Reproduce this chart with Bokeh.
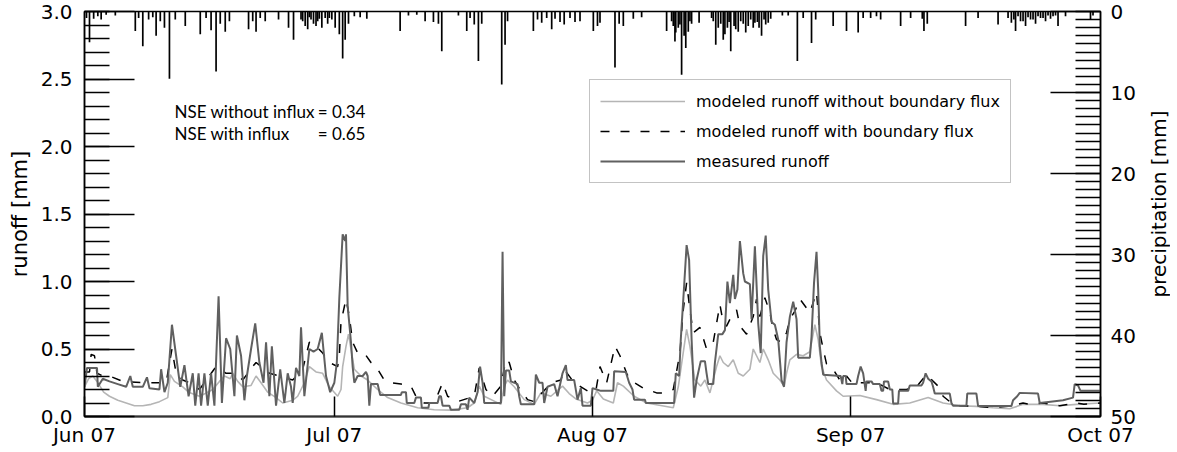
import math
from datetime import datetime, timedelta
from bokeh.plotting import figure
from bokeh.layouts import row
from bokeh.models import (Range1d, LinearAxis, SingleIntervalTicker, FixedTicker,
                          PrintfTickFormatter, DatetimeTickFormatter, ColumnDataSource)
from bokeh.core.properties import value
from bokeh.embed import file_html
from bokeh.resources import INLINE

START = datetime(2007, 6, 1)
END = datetime(2007, 10, 1)

# ---- measured runoff [mm] (day offset from 1 Jun 2007, value) ----
measured_days = [0.0,0.3,1.5,1.6,2.2,3.0,4.0,5.0,5.5,5.8,7.0,7.5,7.8,9.0,9.2,9.6,10.0,10.5,11.0,11.5,12.0,12.5,13.0,13.3,13.7,14.0,14.4,14.8,15.2,15.6,16.1,16.5,17.0,17.5,18.0,18.3,18.8,19.2,19.5,20.0,20.5,21.0,21.5,21.8,22.2,22.5,23.0,23.5,24.0,24.4,24.8,25.0,25.4,25.8,26.0,26.4,27.0,27.5,28.0,28.5,29.0,29.5,30.0,30.3,30.6,
    31.0,31.3,31.4,31.6,32.0,32.2,32.4,32.8,33.4,33.8,34.0,34.2,34.4,35.2,35.5,38.0,38.1,38.6,38.7,39.6,39.8,40.4,40.5,41.3,41.4,42.4,42.6,42.8,43.0,43.8,44.0,45.0,45.2,45.8,46.0,46.2,46.8,47.2,47.5,47.8,48.0,50.0,50.2,50.4,50.6,51.0,51.2,52.0,52.2,52.4,54.0,54.2,54.6,55.0,55.2,55.6,56.4,56.8,57.4,57.8,58.0,58.8,59.2,59.6,59.8,60.8,61.0,
    61.5,62.0,63.5,63.6,65.0,65.4,65.8,66.0,67.3,67.4,70.8,71.0,71.4,71.6,72.0,72.3,72.6,72.9,73.2,73.5,74.0,74.5,74.7,74.9,75.5,75.7,76.1,76.6,76.9,77.2,77.5,77.9,78.1,78.4,78.7,79.1,79.3,79.9,80.1,80.5,80.9,81.2,81.5,81.8,82.1,82.5,82.9,83.3,83.7,84.0,84.3,84.7,85.1,85.5,85.7,87.1,87.3,87.6,87.9,88.1,88.3,88.5,88.7,90.8,91.0,
    91.1,91.4,91.5,92.7,92.9,93.2,93.5,93.8,93.9,94.5,94.7,95.5,95.7,95.9,96.0,96.5,96.7,97.0,97.1,97.7,97.8,98.9,99.1,100.5,100.7,101.0,101.3,101.7,101.9,102.1,103.9,104.1,104.3,105.9,106.0,107.1,107.3,111.3,111.5,112.0,112.3,114.5,114.7,116.0,117.5,118.7,118.9,119.3,119.6,122.0]
measured_vals = [0.22,0.36,0.36,0.22,0.28,0.26,0.24,0.22,0.30,0.22,0.22,0.29,0.21,0.20,0.35,0.18,0.25,0.68,0.45,0.22,0.38,0.15,0.32,0.08,0.32,0.08,0.32,0.08,0.32,0.08,0.89,0.10,0.58,0.50,0.15,0.60,0.45,0.12,0.30,0.50,0.69,0.40,0.25,0.55,0.15,0.52,0.08,0.35,0.10,0.32,0.22,0.10,0.36,0.30,0.66,0.15,0.50,0.48,0.50,0.62,0.30,0.18,0.25,0.40,0.88,
    1.35,1.30,1.35,0.82,0.55,0.37,0.25,0.30,0.30,0.33,0.30,0.08,0.24,0.24,0.16,0.16,0.18,0.18,0.10,0.10,0.14,0.14,0.065,0.065,0.10,0.10,0.15,0.15,0.08,0.08,0.05,0.05,0.09,0.09,0.05,0.14,0.10,0.18,0.37,0.25,0.10,0.10,1.22,0.15,0.34,0.34,0.26,0.24,0.15,0.09,0.09,0.31,0.25,0.25,0.10,0.22,0.24,0.15,0.32,0.38,0.27,0.27,0.125,0.21,0.08,0.08,0.21,
    0.20,0.19,0.19,0.335,0.33,0.25,0.20,0.125,0.125,0.10,0.10,0.32,0.30,0.57,0.965,1.27,1.16,0.57,0.14,0.27,0.41,0.41,0.32,0.24,0.24,0.40,0.61,0.61,0.64,1.00,0.84,1.05,0.87,0.94,1.30,1.06,1.00,0.98,0.72,1.26,0.69,0.47,1.19,1.34,0.94,0.70,0.68,0.57,0.27,0.22,0.55,0.74,0.85,0.72,0.435,0.435,0.59,0.99,1.22,0.94,0.52,0.40,0.31,0.30,0.24,
    0.30,0.30,0.24,0.24,0.30,0.37,0.32,0.19,0.26,0.26,0.24,0.24,0.19,0.19,0.26,0.26,0.20,0.20,0.096,0.096,0.19,0.19,0.23,0.23,0.25,0.32,0.28,0.26,0.22,0.17,0.17,0.10,0.08,0.08,0.17,0.17,0.077,0.077,0.12,0.15,0.175,0.17,0.10,0.11,0.12,0.14,0.24,0.23,0.19,0.19]

# ---- modeled runoff without boundary flux ----
without_days = [0.0,0.5,1.0,1.5,2.3,3.0,4.0,5.0,6.0,7.0,8.0,9.0,10.0,10.3,10.8,11.8,12.5,13.8,14.5,15.4,16.2,16.8,17.5,17.8,18.4,19.0,20.0,20.6,21.2,22.0,23.0,23.8,25.0,25.6,26.4,27.0,27.8,28.6,29.4,30.4,30.8,
    31.0,31.4,31.7,32.0,32.4,33.2,34.0,35.2,36.4,38.0,40.0,42.0,44.0,46.0,46.8,47.4,48.0,50.0,50.4,50.8,51.6,52.8,54.0,54.8,56.0,57.4,58.2,59.0,60.4,61.0,
    61.5,62.3,63.5,64.0,64.7,66.0,67.5,70.7,71.3,72.3,72.7,73.3,74.0,74.5,75.1,75.9,76.3,76.7,77.3,77.9,78.5,79.1,79.9,80.3,80.7,81.1,81.5,82.1,82.7,83.5,84.0,84.3,84.7,85.5,86.3,87.1,87.7,88.1,88.5,89.1,90.3,91.1,
    93.1,95.1,97.1,99.1,101.3,103.1,105.1,107.1,109.1,111.1,112.7,115.1,117.1,119.1,122.0]
without_vals = [0.22,0.28,0.30,0.26,0.18,0.15,0.12,0.10,0.08,0.08,0.09,0.11,0.14,0.31,0.26,0.22,0.18,0.15,0.17,0.20,0.26,0.30,0.28,0.32,0.26,0.22,0.23,0.30,0.25,0.18,0.14,0.10,0.12,0.15,0.25,0.37,0.33,0.32,0.22,0.15,0.20,
    0.37,0.52,0.61,0.50,0.35,0.30,0.27,0.20,0.14,0.10,0.065,0.05,0.047,0.065,0.10,0.225,0.15,0.09,0.225,0.27,0.22,0.125,0.09,0.175,0.15,0.225,0.17,0.13,0.10,0.12,
    0.19,0.13,0.10,0.25,0.225,0.15,0.10,0.065,0.22,0.645,0.52,0.27,0.225,0.27,0.175,0.37,0.45,0.40,0.37,0.42,0.32,0.30,0.35,0.50,0.45,0.40,0.50,0.42,0.32,0.27,0.225,0.32,0.42,0.46,0.45,0.48,0.68,0.57,0.37,0.27,0.19,0.15,
    0.155,0.125,0.09,0.10,0.14,0.10,0.08,0.075,0.065,0.057,0.09,0.09,0.08,0.09,0.10]

# ---- modeled runoff with boundary flux ----
with_days = [0.0,0.6,0.8,1.2,1.5,2.2,3.0,4.6,7.0,9.8,10.5,11.0,11.8,12.6,13.8,15.8,17.0,18.2,19.0,20.2,20.6,22.2,23.4,25.0,26.2,27.0,27.8,28.6,29.4,30.4,
    30.6,30.8,31.4,31.8,32.2,32.8,33.6,34.4,35.0,36.0,36.8,38.0,39.2,40.0,40.8,42.0,43.0,43.6,44.8,46.8,47.4,48.2,49.0,50.0,50.6,51.0,51.6,52.2,53.2,54.0,55.6,56.0,57.2,57.6,58.8,60.4,61.4,
    61.9,62.7,63.7,64.3,65.1,65.5,67.1,68.7,69.7,70.7,71.5,71.9,72.3,72.7,73.1,73.5,73.9,74.7,75.5,75.9,76.3,76.7,77.1,77.5,78.3,78.7,79.5,80.3,80.7,81.1,81.7,82.3,82.7,83.1,83.7,84.3,84.7,85.3,85.9,87.1,87.9,88.3,88.7,89.1,89.9,90.7,91.1,
    91.5,92.3,93.0,95.1,96.7,98.7,99.9,101.1,102.5,103.1,103.9,105.1,107.1,109.1,111.1,112.7,113.5,115.1,117.1,119.1,120.0,122.0]
with_vals = [0.33,0.33,0.46,0.45,0.32,0.30,0.30,0.26,0.25,0.25,0.50,0.32,0.27,0.25,0.20,0.37,0.32,0.32,0.27,0.37,0.40,0.32,0.30,0.27,0.35,0.55,0.52,0.47,0.40,0.37,
    0.45,0.70,0.87,0.74,0.55,0.47,0.47,0.40,0.37,0.27,0.25,0.24,0.225,0.125,0.10,0.10,0.25,0.15,0.11,0.15,0.36,0.20,0.15,0.225,0.42,0.40,0.27,0.21,0.125,0.11,0.22,0.25,0.27,0.35,0.25,0.19,0.19,
    0.37,0.25,0.52,0.45,0.32,0.27,0.21,0.175,0.175,0.20,0.47,0.79,0.99,0.79,0.62,0.64,0.66,0.50,0.55,0.69,0.83,0.69,0.67,0.72,0.79,0.67,0.61,0.74,0.87,0.74,0.88,0.77,0.645,0.57,0.55,0.62,0.72,0.78,0.87,0.77,0.92,0.62,0.50,0.39,0.35,0.27,0.25,
    0.30,0.24,0.25,0.25,0.20,0.20,0.22,0.31,0.225,0.15,0.11,0.08,0.077,0.065,0.077,0.10,0.09,0.10,0.08,0.10,0.09,0.10]

# ---- precipitation [mm] ----
precip_days = [0.24,0.6,1.1,1.6,2.0,2.6,3.7,6.1,6.5,7.0,7.7,8.2,8.6,9.1,9.6,10.2,10.9,12.1,13.9,14.6,15.2,15.8,16.3,16.9,17.4,19.7,20.2,20.6,21.1,21.7,23.3,24.5,25.1,26.0,26.2,26.5,26.8,27.0,27.2,27.5,27.8,28.0,28.2,28.5,28.9,29.2,29.4,29.7,30.1,30.6,31.0,31.3,31.7,32.4,33.1,33.9,
    37.9,38.9,39.9,40.9,41.9,42.5,42.9,44.9,45.9,46.3,46.8,47.3,47.7,50.1,50.5,50.8,53.9,54.4,54.9,55.5,56.1,56.5,57.1,57.6,58.3,58.9,59.5,
    61.1,61.6,61.9,63.7,64.2,64.7,65.9,66.9,69.9,70.5,70.7,70.9,71.0,71.3,71.5,71.7,72.0,72.2,72.5,72.7,72.9,73.8,75.3,75.5,75.8,76.1,76.4,76.7,76.9,77.2,77.4,77.6,78.0,78.2,78.5,78.8,79.1,79.4,79.7,80.0,80.3,80.5,80.8,81.0,81.3,81.6,81.8,82.1,82.4,83.8,84.5,85.6,86.3,87.3,87.8,89.9,
    91.5,92.9,93.5,94.4,95.1,95.6,98.0,99.2,100.6,100.8,101.2,105.8,107.3,109.7,110.9,111.3,111.6,111.8,112.1,112.4,112.7,113.0,113.3,113.6,113.9,114.2,114.5,114.8,115.1,115.4,115.7,116.0,116.3,116.6,116.9,117.8,120.8,121.1,121.5]
precip_mm = [0.8,3.8,0.9,0.6,1.0,0.4,0.5,2.4,0.8,4.3,1.0,0.7,3.0,1.2,2.0,8.3,1.0,1.8,2.8,0.8,2.3,7.4,1.5,2.5,1.2,2.2,1.2,2.5,0.8,1.2,1.0,2.0,3.5,1.0,1.2,1.8,2.2,0.7,1.0,1.5,1.8,1.2,0.9,2.0,0.8,1.5,0.8,1.0,2.0,2.8,5.8,3.5,1.5,0.6,0.7,0.9,
    2.4,0.5,0.4,1.2,1.3,1.5,4.9,0.5,2.4,0.8,1.6,6.1,1.5,9.0,4.1,1.2,2.4,1.0,1.4,0.8,2.2,0.9,1.3,1.6,0.8,1.3,1.2,
    2.4,1.8,1.4,6.9,1.5,1.8,0.9,0.7,2.4,1.2,1.8,3.7,2.6,2.0,1.6,7.8,3.0,4.5,2.5,1.2,1.5,1.4,0.8,1.2,4.1,2.0,1.5,3.5,2.8,2.0,1.3,4.9,1.8,2.2,2.5,1.2,1.5,2.6,1.8,1.0,2.0,1.4,1.3,2.0,3.0,1.0,1.6,1.4,0.9,0.5,0.5,6.1,0.8,3.9,1.0,1.8,
    2.4,2.6,0.8,0.8,0.6,1.0,1.8,0.8,0.9,2.4,1.5,1.8,0.8,1.6,0.8,1.4,1.0,2.4,0.6,1.2,1.2,1.8,0.7,1.0,1.0,1.5,0.6,0.8,0.8,1.2,0.5,0.9,0.6,0.5,1.8,0.6,1.0,0.5]

month_ticks = [datetime(2007, m, 1) for m in (6, 7, 8, 9, 10)]
nse_names = ["NSE without influx", "NSE with influx"]
nse_values = ["= 0.34", "= 0.65"]
legend_labels = ["modeled runoff without boundary flux",
                 "modeled runoff with boundary flux",
                 "measured runoff"]
right_title = "precipitation [mm]"


def to_dt(days):
    return [START + timedelta(days=d) for d in days]


def to_ms(dt):
    return (dt - datetime(1970, 1, 1)).total_seconds() * 1000.0


AX_FONT = "DejaVu Sans"
FRAME_W, FRAME_H = 1016, 405
B_LEFT, B_RIGHT, B_TOP, B_BOTTOM = 84, 46, 11, 32
TOTAL_H = B_TOP + FRAME_H + B_BOTTOM

p = figure(frame_width=FRAME_W, frame_height=FRAME_H, x_axis_type="datetime",
           x_range=Range1d(START, END), y_range=Range1d(0, 3),
           output_backend="svg", toolbar_location=None,
           min_border_left=B_LEFT, min_border_right=B_RIGHT,
           min_border_top=B_TOP, min_border_bottom=B_BOTTOM)
p.grid.visible = False
p.outline_line_color = "black"
p.outline_line_width = 1.5
p.background_fill_color = "white"
p.border_fill_color = "white"

p.extra_y_ranges = {"precip": Range1d(start=50, end=0)}

# precipitation hanging from the top
psrc = ColumnDataSource(dict(t=to_dt(precip_days), mm=precip_mm, z=[0] * len(precip_mm)))
p.segment(x0="t", y0="z", x1="t", y1="mm", source=psrc, y_range_name="precip",
          line_color="black", line_width=1.7)

p.line(to_dt(without_days), without_vals, line_color="#b5b5b5", line_width=1.6,
       legend_label=legend_labels[0])
p.line(to_dt(with_days), with_vals, line_color="black", line_width=1.5,
       line_dash="9 11", legend_label=legend_labels[1])
p.line(to_dt(measured_days), measured_vals, line_color="#606060", line_width=2,
       legend_label=legend_labels[2])

# NSE annotation
p.text(x=to_dt([10.8, 10.8]), y=[2.26, 2.10], text=nse_names,
       text_font=value("Lato"), text_font_size="17px", text_baseline="middle",
       text_color="black")
p.text(x=to_dt([28.0, 28.0]), y=[2.26, 2.10], text=nse_values,
       text_font=value("Lato"), text_font_size="17px", text_baseline="middle",
       text_color="black")

# left axis
ly = p.yaxis[0]
ly.ticker = SingleIntervalTicker(interval=0.5, num_minor_ticks=5)
ly.formatter = PrintfTickFormatter(format="%.1f")
ly.major_tick_in = 50
ly.major_tick_out = 0
ly.minor_tick_in = 25
ly.minor_tick_out = 0
ly.major_tick_line_width = 1.5
ly.minor_tick_line_width = 1.5
ly.axis_line_width = 1.5
ly.major_label_standoff = 12
ly.major_label_text_font = AX_FONT
ly.major_label_text_font_size = "20px"
ly.major_label_text_color = "black"
ly.axis_label = "runoff [mm]"
ly.axis_label_text_font = AX_FONT
ly.axis_label_text_font_style = "normal"
ly.axis_label_text_font_size = "21px"
ly.axis_label_text_color = "black"
ly.axis_label_standoff = 6

# right axis
ry = LinearAxis(y_range_name="precip",
                ticker=SingleIntervalTicker(interval=10, num_minor_ticks=10))
ry.major_tick_in = 50
ry.major_tick_out = 0
ry.minor_tick_in = 25
ry.minor_tick_out = 0
ry.major_tick_line_width = 1.5
ry.minor_tick_line_width = 1.5
ry.axis_line_width = 1.5
ry.major_label_standoff = 10
ry.major_label_text_font = AX_FONT
ry.major_label_text_font_size = "20px"
ry.major_label_text_color = "black"
p.add_layout(ry, "right")

# bottom axis
bx = p.xaxis[0]
bx.ticker = FixedTicker(ticks=[to_ms(d) for d in month_ticks])
fmt = "%b %y"
bx.formatter = DatetimeTickFormatter(microseconds=fmt, milliseconds=fmt, seconds=fmt,
                                     minsec=fmt, minutes=fmt, hourmin=fmt, hours=fmt,
                                     days=fmt, months=fmt, years=fmt)
bx.major_tick_in = 20
bx.major_tick_out = 0
bx.minor_tick_in = 0
bx.minor_tick_out = 0
bx.major_tick_line_width = 1.5
bx.axis_line_width = 2
bx.axis_line_color = "#333333"
bx.major_label_standoff = 6
bx.major_label_text_font = AX_FONT
bx.major_label_text_font_size = "20px"
bx.major_label_text_color = "black"

# legend
lg = p.legend[0]
lg.location = (505, 233)
lg.border_line_color = "#888888"
lg.border_line_width = 1
lg.background_fill_color = "white"
lg.background_fill_alpha = 1
lg.label_text_font = AX_FONT
lg.label_text_font_size = "16px"
lg.label_text_color = "black"
lg.glyph_width = 85
lg.glyph_height = 22
lg.label_height = 22
lg.label_standoff = 11
lg.padding = 10
lg.spacing = 8
lg.margin = 0

# right-hand title strip (text reads bottom-to-top like the reference)
t = figure(width=24, height=TOTAL_H, x_range=Range1d(0, 1), y_range=Range1d(0, TOTAL_H),
           output_backend="svg", toolbar_location=None, min_border=0)
t.axis.visible = False
t.grid.visible = False
t.outline_line_color = None
t.text(x=[0.5], y=[B_BOTTOM + FRAME_H / 2], text=[right_title], angle=math.pi / 2,
       text_align="center", text_baseline="middle", text_font=value(AX_FONT),
       text_font_size="20px", text_color="black")

layout = row(p, t, spacing=0)
open("out.html", "w").write(file_html(layout, INLINE))
